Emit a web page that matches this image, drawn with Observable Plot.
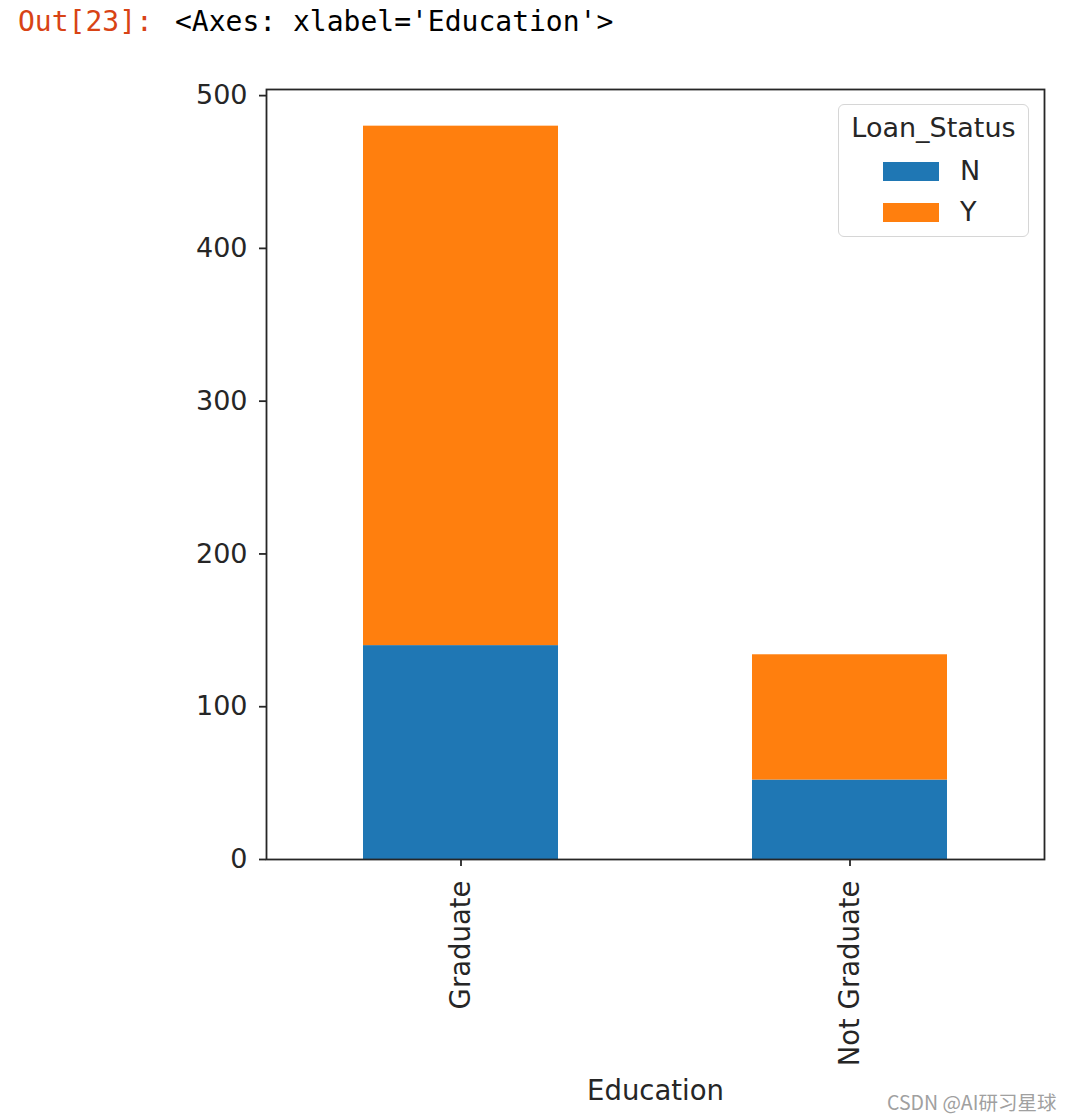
<!DOCTYPE html>
<html>
<head>
<meta charset="utf-8">
<script src="https://cdn.jsdelivr.net/npm/d3@7"></script>
<script src="https://cdn.jsdelivr.net/npm/@observablehq/plot@0.6"></script>
<style>
  html, body { margin: 0; padding: 0; background: #fff; }
  #wrap { position: relative; width: 1070px; height: 1120px; overflow: hidden; }
  #header { position: absolute; left: 18px; top: 8px; font-family: "DejaVu Sans Mono", monospace; font-size: 28px; line-height: 28px; white-space: pre; }
  #header .out { color: #D84315; }
  #header .repr { color: #000; position: absolute; left: 157px; top: 0; }
  #chart { position: absolute; left: 0; top: 0; }
  #legend { position: absolute; left: 838px; top: 104px; width: 189px; height: 131px; border: 1.5px solid #d6d6d6; border-radius: 6px; background: rgba(255,255,255,0.8); font-family: "DejaVu Sans", sans-serif; color: #262626; }
  #legend .title { position: absolute; left: 0; width: 100%; top: 7px; text-align: center; font-size: 27px; line-height: 32px; }
  #legend .item { position: absolute; left: 44px; height: 30px; }
  #legend .sw { position: absolute; left: 0; top: 5px; width: 56px; height: 19px; }
  #legend .lab { position: absolute; left: 77px; top: -2px; font-size: 27px; line-height: 32px; }
  #credit { position: absolute; left: 887px; top: 1087px; font-family: "Noto Sans CJK SC", "Noto Sans", sans-serif; font-size: 19.5px; color: #a0a0a0; white-space: nowrap; }
</style>
</head>
<body>
<div id="wrap">
  <div id="chart"></div>
  <div id="header"><span class="out">Out[23]:</span><span class="repr">&lt;Axes: xlabel='Education'&gt;</span></div>
  <div id="legend"></div>
  <div id="credit">CSDN @AI研习星球</div>
</div>
<script>
const categories = ["Graduate", "Not Graduate"];
const statuses = ["N", "Y"];
const countsN = [140, 52];
const countsY = [340, 82];
const statusColors = ["#1f77b4", "#ff7f0e"];
const yTicks = [0, 100, 200, 300, 400, 500];
const xLabel = "Education";
const legendTitle = "Loan_Status";

const rows = [];
categories.forEach((c, i) => {
  rows.push({Education: c, status: "N", count: countsN[i]});
  rows.push({Education: c, status: "Y", count: countsY[i]});
});
const yMax = d3.max(categories.map((c, i) => countsN[i] + countsY[i])) * 1.05;

const chart = Plot.plot({
  width: 1070,
  height: 1120,
  marginTop: 89,
  marginBottom: 261,
  marginLeft: 266,
  marginRight: 26,
  style: {fontFamily: "DejaVu Sans, sans-serif", fontSize: "27px", color: "#262626", background: "transparent"},
  x: {domain: categories, paddingInner: 0.5, paddingOuter: 0.25, label: null},
  y: {domain: [0, yMax], label: null},
  color: {domain: statuses, range: statusColors},
  marks: [
    Plot.barY(rows, {x: "Education", y: "count", fill: "status", inset: 0}),
    Plot.axisY({ticks: yTicks, tickSize: 7, tickPadding: 12, tickFormat: d => String(d), stroke: "#262626", strokeWidth: 1.8, fontSize: 27, label: null}),
    Plot.axisX({tickSize: 7, tickPadding: 14, tickRotate: -90, stroke: "#262626", strokeWidth: 1.8, fontSize: 27.5, label: xLabel, labelAnchor: "center", labelOffset: 240, labelArrow: "none"}),
    Plot.frame({stroke: "#262626", strokeWidth: 1.8})
  ]
});
document.getElementById("chart").appendChild(chart);

const legend = document.getElementById("legend");
const t = document.createElement("div");
t.className = "title";
t.textContent = legendTitle;
legend.appendChild(t);
statuses.forEach((s, i) => {
  const item = document.createElement("div");
  item.className = "item";
  item.style.top = (52 + i * 41) + "px";
  const sw = document.createElement("div");
  sw.className = "sw";
  sw.style.background = statusColors[i];
  const lab = document.createElement("div");
  lab.className = "lab";
  lab.textContent = s;
  item.appendChild(sw);
  item.appendChild(lab);
  legend.appendChild(item);
});
</script>
</body>
</html>
